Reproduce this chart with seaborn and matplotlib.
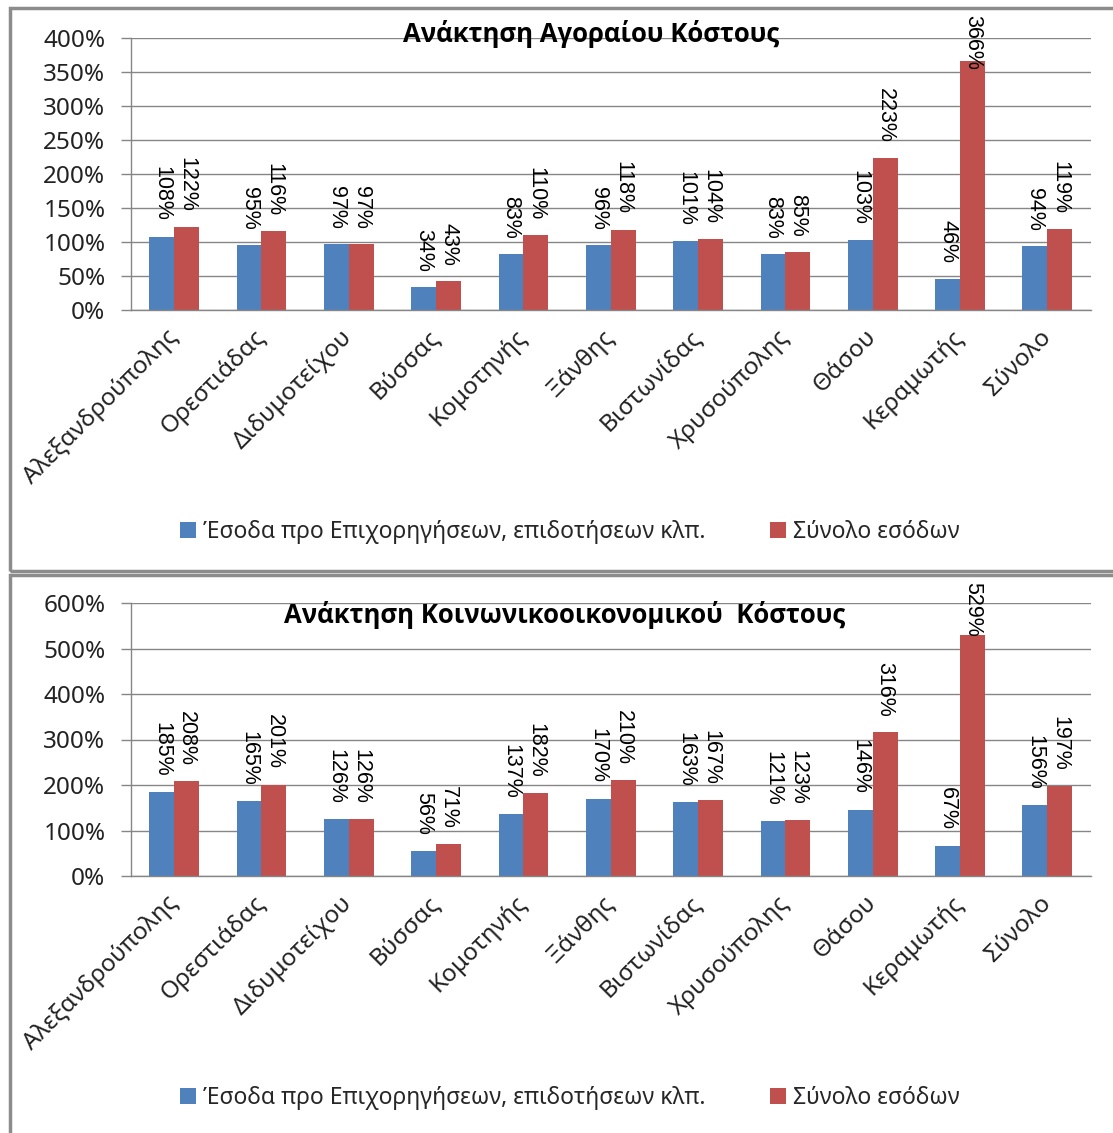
import matplotlib
matplotlib.use('Agg')
import matplotlib.pyplot as plt
from matplotlib.patches import Rectangle
from matplotlib import font_manager
import seaborn as sns
import pandas as pd
import numpy as np

categories = ['Αλεξανδρούπολης', 'Ορεστιάδας', 'Διδυμοτείχου', 'Βύσσας', 'Κομοτηνής',
              'Ξάνθης', 'Βιστωνίδας', 'Χρυσούπολης', 'Θάσου', 'Κεραμωτής', 'Σύνολο']
series_names = ['Έσοδα προ Επιχορηγήσεων, επιδοτήσεων κλπ.', 'Σύνολο εσόδων']

# values in %
market_subsidy = [108, 95, 97, 34, 83, 96, 101, 83, 103, 46, 94]
market_total = [122, 116, 97, 43, 110, 118, 104, 85, 223, 366, 119]
social_subsidy = [185, 165, 126, 56, 137, 170, 163, 121, 146, 67, 156]
social_total = [208, 201, 126, 71, 182, 210, 167, 123, 316, 529, 197]

titles = ['Ανάκτηση Αγοραίου Κόστους', 'Ανάκτηση Κοινωνικοοικονομικού  Κόστους']
yticks_market = list(range(0, 401, 50))
yticks_social = list(range(0, 601, 100))

colors = ['#4F81BD', '#C0504D']
grey = '#868686'

sns.set_style('white')
plt.rcParams['font.family'] = ['Noto Sans', 'DejaVu Sans']

# bold title font: take the first family that really has a bold face
title_family = 'DejaVu Sans'
for fam in ['Noto Sans', 'Open Sans', 'Liberation Sans']:
    try:
        f = font_manager.findfont(font_manager.FontProperties(family=fam, weight='bold'),
                                  fallback_to_default=False)
        if 'bold' in f.lower():
            title_family = fam
            break
    except Exception:
        pass

W, H = 1113, 1133
fig = plt.figure(figsize=(W / 100, H / 100), dpi=100)


def frac_rect(x0, y0, x1, y1):
    # pixel box (top-left origin) -> figure fraction [l, b, w, h]
    return [x0 / W, 1 - y1 / H, (x1 - x0) / W, (y1 - y0) / H]


panels = [
    dict(sub=market_subsidy, tot=market_total, ticks=yticks_market, title=titles[0],
         frame=(10, 8, 1200, 571), ax=(130.5, 38, 1091, 310), title_xy=(591, 34), leg_y=532),
    dict(sub=social_subsidy, tot=social_total, ticks=yticks_social, title=titles[1],
         frame=(10, 575, 1200, 1200), ax=(130.5, 603, 1091, 876), title_xy=(565, 615), leg_y=1098),
]

all_labels = []
for p in panels:
    fx0, fy0, fx1, fy1 = p['frame']
    fig.add_artist(Rectangle((fx0 / W, 1 - fy1 / H), (fx1 - fx0) / W, (fy1 - fy0) / H,
                             transform=fig.transFigure, fill=False, ec='#8C8C8C', lw=2.5))

    df = pd.DataFrame({
        'cat': categories * 2,
        'series': [series_names[0]] * len(categories) + [series_names[1]] * len(categories),
        'val': p['sub'] + p['tot'],
    })
    ax = fig.add_axes(frac_rect(*p['ax']))
    sns.barplot(data=df, x='cat', y='val', hue='series', palette=colors, saturation=1,
                width=0.57, linewidth=0, ax=ax)

    ax.set_ylim(0, p['ticks'][-1])
    ax.set_yticks(p['ticks'])
    ax.set_yticklabels(['{}%'.format(t) for t in p['ticks']], fontsize=17.5, color='#222222')
    ax.yaxis.grid(True, color=grey, lw=1)
    ax.set_axisbelow(True)
    ax.set_xlabel('')
    ax.set_ylabel('')
    sns.despine(ax=ax, top=True, right=True)
    for s in ['left', 'bottom']:
        ax.spines[s].set_color(grey)
        ax.spines[s].set_linewidth(1)

    ax.set_xticks(np.arange(-0.5, len(categories), 1), minor=True)
    ax.set_xticklabels(categories, rotation=45, ha='right', va='center',
                       rotation_mode='anchor', fontsize=17.5, color='#222222')
    ax.tick_params(axis='x', which='major', length=0, pad=17)
    ax.tick_params(axis='x', which='minor', length=8, color=grey, width=1)
    ax.tick_params(axis='y', length=7, color=grey, width=1, left=True, pad=11)
    ax.set_xlim(-0.5, len(categories) - 0.5)

    for cont in ax.containers:
        labs = ax.bar_label(cont, fmt='{:.0f}%', rotation=-90, padding=11,
                            fontsize=15.5, family='Liberation Sans', color='black')
        all_labels.append((labs, fy0 + 7))

    ax.text(p['title_xy'][0] / W, 1 - p['title_xy'][1] / H, p['title'],
            transform=fig.transFigure, ha='center', va='center',
            fontsize=18.5, fontweight='bold', family=title_family, color='black')

    sns.move_legend(ax, 'center', bbox_to_anchor=(570 / W, 1 - p['leg_y'] / H),
                    bbox_transform=fig.transFigure, ncol=2, frameon=False, title=None,
                    fontsize=16.5, handlelength=0.7, handleheight=0.7, handletextpad=0.3,
                    columnspacing=2.8)

# keep labels of very tall bars inside the chart frame
fig.canvas.draw()
for labs, top_px in all_labels:
    limit = H - top_px
    for t in labs:
        bb = t.get_window_extent()
        if bb.y1 > limit:
            dx, dy = t.xyann
            t.xyann = (dx, dy - (bb.y1 - limit) * 72 / 100)

fig.savefig('out.png', dpi=100)
